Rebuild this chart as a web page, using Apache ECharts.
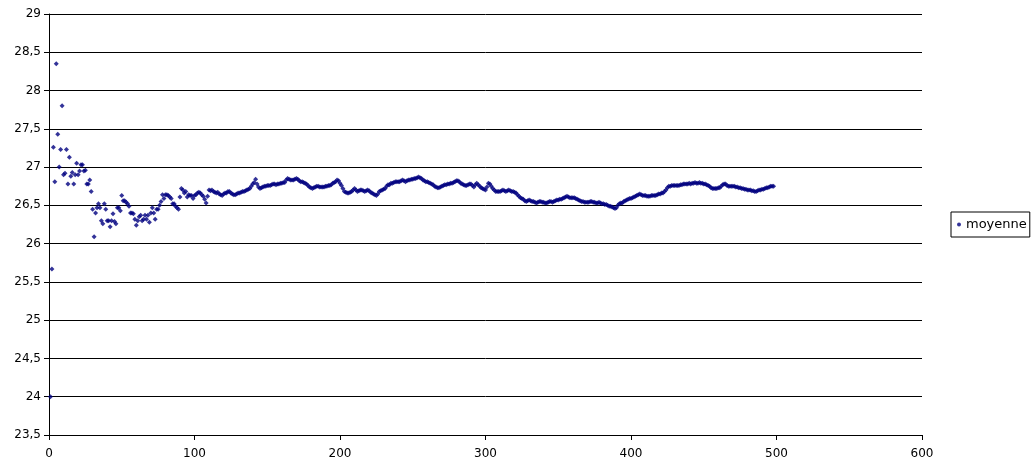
<!DOCTYPE html>
<html>
<head>
<meta charset="utf-8">
<script src="https://cdn.jsdelivr.net/npm/echarts@6/dist/echarts.min.js"></script>
<style>
  html, body { margin: 0; padding: 0; background: #fff; }
  #chart { width: 1035px; height: 466px; }
</style>
</head>
<body>
<div id="chart"></div>
<script>
// moyenne cumulée, un point par essai (x = 1, 2, 3 ...)
var moyenne = [
  24.00, 25.67, 27.26, 26.81, 28.35, 27.43, 27.00, 27.23, 27.80, 26.90,
  26.92, 27.23, 26.78, 27.13, 26.88, 26.93, 26.78, 26.90, 27.05, 26.90,
  26.95, 27.03, 27.03, 26.95, 26.96, 26.78, 26.78, 26.83, 26.68, 26.45,
  26.09, 26.40, 26.47, 26.52, 26.47, 26.30, 26.26, 26.52, 26.45, 26.30,
  26.30, 26.22, 26.30, 26.39, 26.29, 26.26, 26.47, 26.47, 26.43, 26.63,
  26.56, 26.56, 26.54, 26.52, 26.49, 26.40, 26.40, 26.39, 26.32, 26.24,
  26.30, 26.35, 26.37, 26.30, 26.32, 26.37, 26.32, 26.37, 26.28, 26.40,
  26.47, 26.40, 26.32, 26.45, 26.45, 26.50, 26.55, 26.64, 26.59, 26.64,
  26.64, 26.63, 26.61, 26.59, 26.52, 26.52, 26.49, 26.47, 26.45, 26.61,
  26.72, 26.70, 26.66, 26.68, 26.61, 26.64, 26.63, 26.63, 26.59, 26.63,
  26.64, 26.66, 26.67, 26.66, 26.64, 26.62, 26.58, 26.53, 26.62, 26.70,
  26.69, 26.70, 26.68, 26.67, 26.66, 26.67, 26.65, 26.64, 26.63, 26.65,
  26.66, 26.66, 26.68, 26.68, 26.66, 26.65, 26.64, 26.64, 26.65, 26.66,
  26.66, 26.67, 26.68, 26.68, 26.69, 26.70, 26.71, 26.72, 26.75, 26.78,
  26.80, 26.84, 26.78, 26.74, 26.72, 26.73, 26.74, 26.75, 26.75, 26.76,
  26.76, 26.76, 26.77, 26.78, 26.78, 26.77, 26.78, 26.78, 26.79, 26.79,
  26.80, 26.80, 26.83, 26.85, 26.84, 26.83, 26.83, 26.83, 26.84, 26.85,
  26.84, 26.82, 26.81, 26.81, 26.80, 26.79, 26.78, 26.76, 26.74, 26.73,
  26.72, 26.73, 26.74, 26.75, 26.75, 26.74, 26.74, 26.74, 26.74, 26.75,
  26.75, 26.76, 26.76, 26.77, 26.79, 26.80, 26.81, 26.83, 26.82, 26.79,
  26.76, 26.72, 26.68, 26.67, 26.66, 26.66, 26.67, 26.68, 26.70, 26.72,
  26.70, 26.68, 26.69, 26.70, 26.70, 26.69, 26.68, 26.69, 26.70, 26.69,
  26.67, 26.66, 26.65, 26.64, 26.63, 26.65, 26.68, 26.69, 26.70, 26.71,
  26.72, 26.75, 26.77, 26.77, 26.79, 26.79, 26.80, 26.81, 26.81, 26.81,
  26.81, 26.82, 26.83, 26.82, 26.81, 26.82, 26.83, 26.83, 26.84, 26.84,
  26.85, 26.85, 26.86, 26.87, 26.86, 26.85, 26.83, 26.82, 26.81, 26.81,
  26.80, 26.79, 26.78, 26.77, 26.75, 26.74, 26.73, 26.73, 26.74, 26.75,
  26.76, 26.77, 26.77, 26.78, 26.78, 26.79, 26.79, 26.80, 26.81, 26.82,
  26.82, 26.81, 26.79, 26.78, 26.77, 26.76, 26.76, 26.77, 26.78, 26.78,
  26.76, 26.74, 26.77, 26.79, 26.77, 26.75, 26.73, 26.72, 26.71, 26.70,
  26.74, 26.79, 26.78, 26.75, 26.72, 26.70, 26.68, 26.68, 26.68, 26.68,
  26.69, 26.70, 26.69, 26.68, 26.69, 26.70, 26.69, 26.68, 26.68, 26.67,
  26.66, 26.64, 26.62, 26.60, 26.59, 26.58, 26.56, 26.55, 26.56, 26.57,
  26.56, 26.55, 26.55, 26.54, 26.53, 26.54, 26.55, 26.55, 26.54, 26.54,
  26.53, 26.53, 26.54, 26.55, 26.55, 26.54, 26.55, 26.56, 26.57, 26.57,
  26.58, 26.58, 26.59, 26.60, 26.61, 26.62, 26.61, 26.60, 26.60, 26.60,
  26.60, 26.59, 26.58, 26.57, 26.56, 26.55, 26.55, 26.54, 26.54, 26.54,
  26.54, 26.55, 26.55, 26.54, 26.54, 26.53, 26.53, 26.54, 26.53, 26.52,
  26.52, 26.51, 26.51, 26.50, 26.49, 26.49, 26.48, 26.47, 26.46, 26.47,
  26.50, 26.52, 26.53, 26.53, 26.55, 26.56, 26.57, 26.58, 26.59, 26.59,
  26.60, 26.61, 26.62, 26.63, 26.64, 26.65, 26.64, 26.63, 26.63, 26.63,
  26.62, 26.62, 26.62, 26.63, 26.63, 26.63, 26.63, 26.64, 26.65, 26.65,
  26.66, 26.66, 26.68, 26.70, 26.73, 26.75, 26.75, 26.76, 26.76, 26.76,
  26.76, 26.76, 26.76, 26.77, 26.77, 26.78, 26.78, 26.78, 26.78, 26.79,
  26.78, 26.79, 26.79, 26.80, 26.79, 26.79, 26.80, 26.79, 26.79, 26.78,
  26.78, 26.77, 26.76, 26.75, 26.73, 26.72, 26.72, 26.72, 26.72, 26.73,
  26.73, 26.75, 26.77, 26.78, 26.78, 26.76, 26.75, 26.75, 26.75, 26.75,
  26.75, 26.74, 26.74, 26.73, 26.73, 26.72, 26.72, 26.71, 26.71, 26.70,
  26.70, 26.70, 26.69, 26.69, 26.68, 26.68, 26.69, 26.70, 26.70, 26.71,
  26.71, 26.72, 26.73, 26.73, 26.74, 26.75, 26.75, 26.75
];

var xMin = 0, xMax = 600, xStep = 100;
var yMin = 23.5, yMax = 29, yStep = 0.5;

var points = moyenne.map(function (v, i) { return [i + 1, v]; });

var chart = echarts.init(document.getElementById('chart'), null, { renderer: 'canvas' });

var labelFont = { color: '#000', fontFamily: 'DejaVu Sans', fontSize: 12 };

chart.setOption({
  animation: false,
  backgroundColor: '#fff',
  grid: {
    left: 49,
    right: 113,
    top: 14,
    bottom: 31,
    containLabel: false,
    outerBoundsMode: 'none'
  },
  legend: {
    left: 951,
    top: 212,
    orient: 'vertical',
    borderColor: '#000',
    borderWidth: 1,
    padding: [6, 3, 6, 6],
    icon: 'circle',
    itemWidth: 4,
    itemHeight: 4,
    textStyle: { color: '#000', fontFamily: 'DejaVu Sans', fontSize: 13 },
    data: ['moyenne']
  },
  xAxis: {
    type: 'value',
    min: xMin,
    max: xMax,
    interval: xStep,
    axisLine: { show: true, onZero: false, lineStyle: { color: '#000', width: 1 } },
    axisTick: { show: true, length: 5, lineStyle: { color: '#000' } },
    axisLabel: Object.assign({ margin: 13 }, labelFont),
    splitLine: { show: false }
  },
  yAxis: {
    type: 'value',
    min: yMin,
    max: yMax,
    interval: yStep,
    axisLine: { show: true, onZero: false, lineStyle: { color: '#000', width: 1 } },
    axisTick: { show: true, length: 5, lineStyle: { color: '#000' } },
    axisLabel: Object.assign({
      margin: 8,
      formatter: function (v) { return String(v).replace('.', ','); }
    }, labelFont),
    splitLine: { show: true, lineStyle: { color: '#000', width: 1 } }
  },
  series: [{
    name: 'moyenne',
    type: 'scatter',
    symbol: 'diamond',
    symbolSize: 5,
    itemStyle: { color: '#000080' },
    data: points
  }]
});
</script>
</body>
</html>
